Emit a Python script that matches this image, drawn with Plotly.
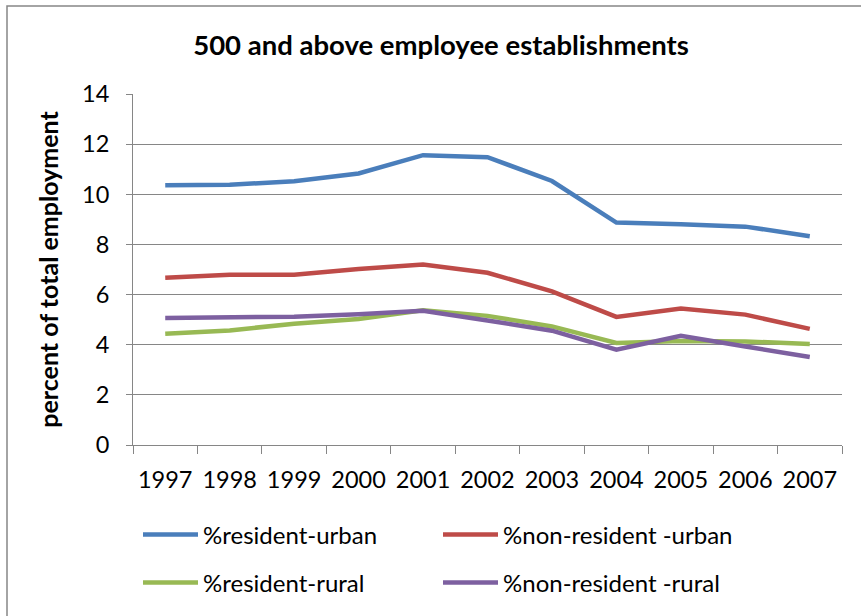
import plotly.graph_objects as go

years = ["1997", "1998", "1999", "2000", "2001", "2002", "2003", "2004", "2005", "2006", "2007"]

resident_urban = [10.36, 10.38, 10.52, 10.83, 11.56, 11.48, 10.53, 8.87, 8.80, 8.71, 8.33]
non_resident_urban = [6.67, 6.79, 6.79, 7.02, 7.20, 6.87, 6.13, 5.11, 5.44, 5.20, 4.63]
resident_rural = [4.44, 4.57, 4.84, 5.03, 5.37, 5.15, 4.73, 4.07, 4.15, 4.13, 4.03]
non_resident_rural = [5.07, 5.11, 5.12, 5.22, 5.35, 4.97, 4.56, 3.80, 4.36, 3.93, 3.51]

series = [
    ("%resident-urban", resident_urban, "#4A7EBB", "legend"),
    ("%non-resident -urban", non_resident_urban, "#BE4B48", "legend"),
    ("%resident-rural", resident_rural, "#98B954", "legend2"),
    ("%non-resident -rural", non_resident_rural, "#7D60A0", "legend2"),
]

FONT = "Lato"

fig = go.Figure()
for name, vals, color, leg in series:
    fig.add_trace(go.Scatter(
        x=years, y=vals, name=name, mode="lines",
        line=dict(color=color, width=4.5),
        legend=leg,
    ))

W, H = 861, 616
left, right, top, bottom = 133, 842, 94, 445

legend_common = dict(
    orientation="h",
    entrywidth=230, entrywidthmode="pixels",
    itemwidth=55,
    font=dict(family=FONT, size=24, color="#000000"),
    bgcolor="rgba(0,0,0,0)",
    xanchor="left", yanchor="middle",
    xref="container", yref="container",
)

fig.update_layout(
    width=W, height=H,
    margin=dict(l=left, r=W - right, t=top, b=H - bottom),
    paper_bgcolor="white", plot_bgcolor="white",
    font=dict(family=FONT, color="#000000"),
    title=dict(
        text="<b>500 and above employee establishments</b>",
        font=dict(family=FONT, size=27.5, color="#000000"),
        x=441 / W, xanchor="center", xref="container",
        y=1 - 45 / H, yanchor="middle", yref="container",
    ),
    legend=dict(legend_common, x=138 / W, y=1 - 535 / H),
    legend2=dict(legend_common, x=138 / W, y=1 - 583 / H),
    showlegend=True,
    xaxis=dict(
        type="category",
        range=[-0.5, 10.5],
        tickson="boundaries",
        ticks="outside", ticklen=8, tickwidth=1, tickcolor="#868686",
        showline=True, linecolor="#868686", linewidth=1,
        showgrid=False, zeroline=False,
        tickfont=dict(family=FONT, size=23.5, color="#000000"),
        ticklabelstandoff=14,
    ),
    yaxis=dict(
        range=[0, 14], dtick=2,
        ticks="outside", ticklen=6, tickwidth=1, tickcolor="#868686",
        showline=True, linecolor="#868686", linewidth=1,
        showgrid=True, gridcolor="#868686", gridwidth=1,
        zeroline=False,
        tickfont=dict(family=FONT, size=23.5, color="#000000"),
        ticklabelstandoff=12,
        title=dict(
            text="<b>percent of total employment</b>",
            font=dict(family=FONT, size=25, color="#000000"),
            standoff=16,
        ),
    ),
    shapes=[dict(
        type="rect", xref="paper", yref="paper",
        x0=(7 - left) / (right - left), x1=(W + 20 - left) / (right - left),
        y0=(bottom - (H + 20)) / (bottom - top), y1=(bottom - 6) / (bottom - top),
        line=dict(color="#868686", width=1.5), fillcolor="rgba(0,0,0,0)",
        layer="below",
    )],
)

fig.write_html("out.html")
